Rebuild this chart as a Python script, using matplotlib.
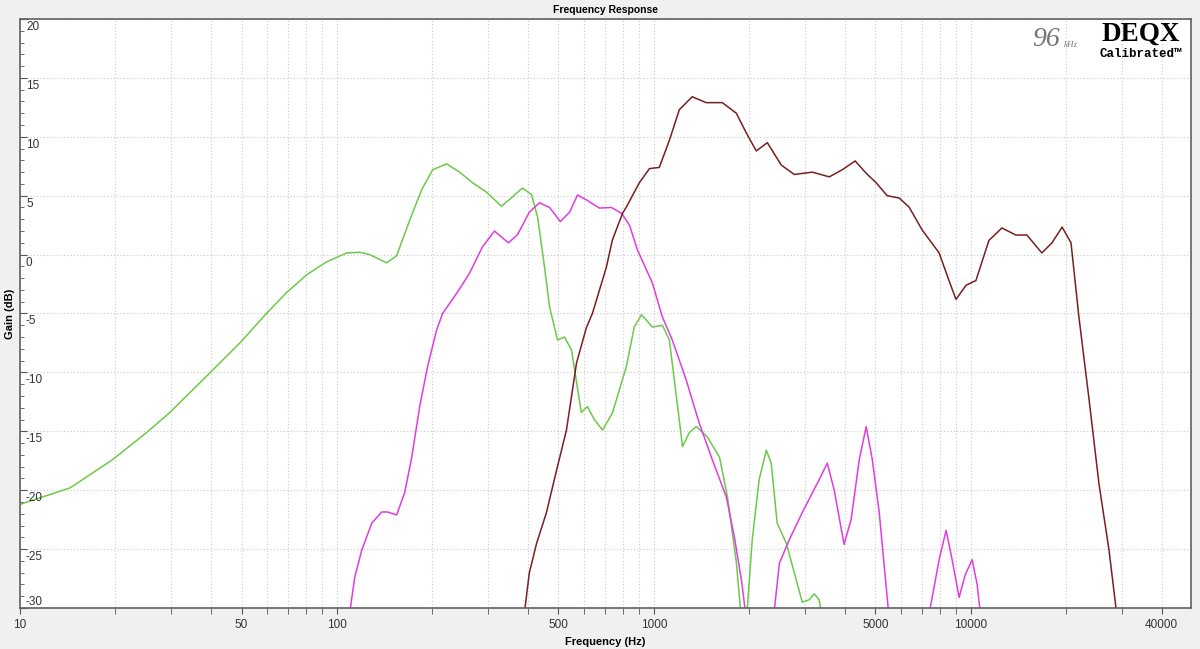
import matplotlib
matplotlib.use("Agg")
import matplotlib.pyplot as plt

# frequency response curves (Hz, dB)
green_freq = [10, 14.4, 19.6, 25.1, 29.7, 39.7, 49.4, 60.1, 69.5, 80.4, 92.9, 107.4, 118, 126.8,
              143.5, 154.3, 169.5, 185, 200.4, 221.8, 243.8, 267.9, 296.5, 330.4, 358, 384.6, 411,
              429.5, 451.8, 468.8, 496.5, 522.4, 549.5, 590.2, 616.6, 648.6, 688.7, 739.6, 818.8,
              867, 914, 988.6, 1064, 1119, 1178, 1231, 1294, 1362, 1476, 1611, 1707, 1822, 1888,
              1959, 2043, 2148, 2263, 2345, 2449, 2616, 2812, 2938, 3090, 3206, 3324, 3397]
green_db = [-21.2, -19.8, -17.4, -15.1, -13.4, -10.05, -7.5, -4.96, -3.2, -1.7, -0.6, 0.14, 0.2, 0.0,
            -0.7, -0.1, 2.9, 5.5, 7.2, 7.7, 7.0, 6.1, 5.3, 4.1, 4.9, 5.65, 5.1,
            3.2, -1.05, -4.45, -7.25, -7.0, -8.1, -13.4, -12.9, -14.0, -14.9, -13.45, -9.5,
            -6.15, -5.1, -6.15, -6.0, -7.25, -12.1, -16.3, -15.1, -14.6, -15.5, -17.2, -20.6, -26.2, -31,
            -31, -24.2, -19.1, -16.6, -17.7, -22.8, -24.5, -27.6, -29.5, -29.3, -28.8, -29.3, -31]

magenta_freq = [109.6, 113.8, 119.7, 128.8, 138.4, 144.5, 154.3, 163.6, 172.2, 182.4, 193.2, 206.3,
                215.4, 238.4, 261.8, 287.7, 314.1, 347.5, 371.5, 404.6, 435.5, 468.8, 507, 541.9,
                574.1, 616.6, 673, 734.5, 790.7, 837.5, 887.2, 988.6, 1064, 1143, 1265, 1390, 1528,
                1694, 1795, 1888, 1959,
                2380, 2489, 2675, 2938, 3324, 3524, 3707, 3981, 4190, 4446, 4677, 4887, 5140, 5529,
                7328, 7943, 8356, 8730, 9183, 9594, 10094, 10470, 10770]
magenta_db = [-30.5, -27.4, -25.1, -22.8, -21.85, -21.85, -22.1, -20.2, -17.2, -12.9, -9.5, -6.4,
              -5.0, -3.3, -1.6, 0.65, 2.0, 1.0, 1.7, 3.6, 4.4, 4.0, 2.8, 3.6,
              5.06, 4.6, 3.95, 4.0, 3.5, 2.5, 0.4, -2.4, -5.3, -7.25, -10.65, -14.3, -17.4,
              -20.6, -24.0, -27.6, -31,
              -31, -26.2, -24.2, -21.9, -19.1, -17.7, -20.0, -24.6, -22.5, -17.4, -14.6, -17.4, -21.9, -31,
              -31, -25.9, -23.4, -25.9, -29.1, -27.2, -25.9, -28.0, -31]

red_freq = [388, 404.6, 426.6, 458.1, 493.2, 529.7, 570, 612.4, 639.7, 708.3, 739.6, 796.2, 818.8,
            899.5, 968.3, 1040, 1119, 1203, 1321, 1462, 1644, 1820, 1959, 2104, 2280, 2523, 2773,
            3162, 3575, 3928, 4315, 4677, 5026, 5445, 5943, 6383, 7017, 7943, 8531, 8977, 9661,
            10375, 11403, 12531, 13869, 15025, 16749, 18030, 19409, 20701, 21928, 23605, 25350,
            27290, 29000]
red_db = [-31, -27.0, -24.5, -21.9, -18.3, -14.9, -9.2, -6.2, -5.0, -1.05, 1.24, 3.5, 4.04,
          6.1, 7.3, 7.4, 9.7, 12.3, 13.4, 12.9, 12.9, 12.0, 10.3, 8.8, 9.5, 7.6, 6.8,
          7.0, 6.6, 7.2, 7.95, 6.9, 6.1, 5.0, 4.8, 4.04, 2.1, 0.14, -2.2, -3.8, -2.6,
          -2.2, 1.2, 2.26, 1.66, 1.66, 0.14, 1.0, 2.34, 1.0, -5.3, -12.3, -19.4,
          -25.1, -31]

x_major = [10, 50, 100, 500, 1000, 5000, 10000, 40000]
x_minor = [20, 30, 40, 60, 70, 80, 90, 200, 300, 400, 600, 700, 800, 900,
           2000, 3000, 4000, 6000, 7000, 8000, 9000, 20000, 30000]
y_major = [20, 15, 10, 5, 0, -5, -10, -15, -20, -25, -30]

plt.rcParams['font.family'] = ['Liberation Sans', 'DejaVu Sans']

fig = plt.figure(figsize=(12, 6.49), dpi=100, facecolor='#f0f0f0')
ax = fig.add_axes([20 / 1200, 1 - 608 / 649, 1171 / 1200, 589 / 649])
ax.set_facecolor('white')

ax.plot(green_freq, green_db, color='#6cc94a', lw=1.1)
ax.plot(magenta_freq, magenta_db, color='#e03ce0', lw=1.1)
ax.plot(red_freq, red_db, color='#7a1f1f', lw=1.1)

ax.set_xscale('log')
ax.set_xlim(10, 49500)
ax.set_ylim(-30, 20)

ax.set_xticks(x_major)
ax.set_xticklabels([str(v) for v in x_major], fontsize=8.5, color='#333333')
ax.set_xticks(x_minor, minor=True)
ax.xaxis.set_minor_formatter(matplotlib.ticker.NullFormatter())
ax.tick_params(axis='x', which='both', direction='out', length=4, color='#555555', pad=4)

ax.set_yticks(y_major)
ax.set_yticklabels([])
ax.set_yticks(range(-30, 21), minor=True)
ax.tick_params(axis='y', which='major', direction='in', length=5, color='#555555')
ax.tick_params(axis='y', which='minor', direction='in', length=3, color='#555555')
for v in y_major:
    dy = 6 if v == -30 else -8
    ax.annotate(str(v), xy=(0, v), xycoords=('axes fraction', 'data'),
                xytext=(6, dy), textcoords='offset pixels', va='center', ha='left',
                fontsize=8.5, color='#333333')

ax.grid(True, which='major', axis='both', color='#c8c8c8', linestyle=(0, (1, 2)), lw=0.8)
ax.grid(True, which='minor', axis='x', color='#c8c8c8', linestyle=(0, (1, 2)), lw=0.8)

for side in ['left', 'bottom', 'top', 'right']:
    ax.spines[side].set_color('#606060')
    ax.spines[side].set_linewidth(1.2)

ax.set_title('Frequency Response', fontsize=7.5, fontweight='bold', pad=4)
ax.set_xlabel('Frequency (Hz)', fontsize=8, fontweight='bold', labelpad=4)
ax.set_ylabel('Gain (dB)', fontsize=8, fontweight='bold')
ax.yaxis.set_label_coords(-0.004, 0.5)

# DEQX logo in the corner
fig.text(1032 / 1200, 1 - 40 / 649, '96', fontsize=20, style='italic', color='#777777',
         family=['Liberation Serif'], va='center', ha='left')
fig.text(1064 / 1200, 1 - 45 / 649, 'kHz', fontsize=6.5, style='italic', color='#777777',
         family=['Liberation Serif'], va='center', ha='left')
fig.text(1141 / 1200, 1 - 34 / 649, 'DEQX', fontsize=19.5, fontweight='bold', color='black',
         family=['Liberation Serif'], va='center', ha='center')
fig.text(1141 / 1200, 1 - 54 / 649, 'Calibrated\u2122', fontsize=9, fontweight='bold',
         color='black', family=['Liberation Mono'], va='center', ha='center')

fig.savefig('out.png', dpi=100, facecolor=fig.get_facecolor())
